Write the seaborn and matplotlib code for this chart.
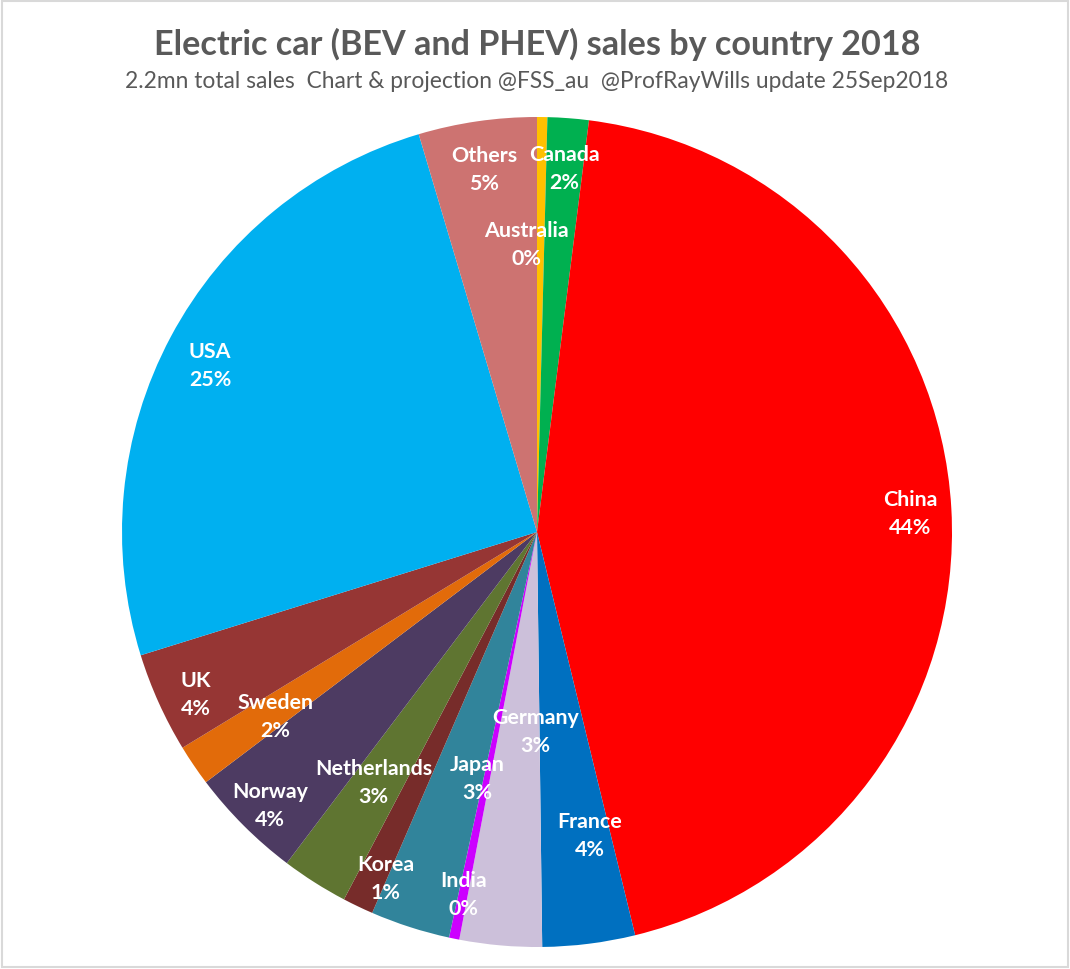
import numpy as np
import seaborn as sns
import matplotlib.pyplot as plt
from matplotlib.patches import Rectangle

# share of 2018 EV sales (%)
countries = ['Australia', 'Canada', 'China', 'France', 'Germany', 'India', 'Japan',
             'Korea', 'Netherlands', 'Norway', 'Sweden', 'UK', 'USA', 'Others']
shares = [0.4, 1.6, 44.2, 3.6, 3.2, 0.4, 3.1, 1.2, 2.6, 4.4, 1.6, 3.9, 25.2, 4.6]
colors = ['#FFC000', '#00B050', '#FF0000', '#0070C0', '#CCC0DA', '#CC00FF', '#31849B',
          '#772C2A', '#5F7531', '#4D3B62', '#E26B0A', '#963634', '#00B0F0', '#CD7371']

title = 'Electric car (BEV and PHEV) sales by country 2018'
subtitle = '2.2mn total sales  Chart & projection @FSS_au  @ProfRayWills update 25Sep2018'

# where excel put the data labels: radius fraction, clockwise shift (deg)
label_r = [0.695, 0.88, 0.9, 0.74, 0.48, 0.89, 0.61, 0.91, 0.72, 0.92, 0.77, 0.91, 0.885, 0.885]
label_shift = [-2.9, 0, 0.4, -2.7, -4.7, 0, -4.2, -2, 0.8, -0.6, -0.9, -1.1, -1, 0]

sns.set_theme(style='white')
plt.rcParams['font.family'] = ['Lato', 'DejaVu Sans']

fig = plt.figure(figsize=(10.7, 9.7), dpi=100)
W, H = 1070, 970
cx, cy, R = 537, 533, 415
ax = fig.add_axes([(cx - R) / W, (H - cy - R) / H, 2 * R / W, 2 * R / H])

pal = sns.color_palette(colors)
wedges, _ = ax.pie(shares, colors=pal, startangle=90, counterclock=False, radius=1,
                   wedgeprops=dict(linewidth=0))
ax.set_xlim(-1, 1)
ax.set_ylim(-1, 1)
ax.set_aspect('equal')
ax.axis('off')

total = sum(shares)
for w, name, val, r, sh in zip(wedges, countries, shares, label_r, label_shift):
    mid = np.deg2rad((w.theta1 + w.theta2) / 2 - sh)
    pct = f'{round(val / total * 100):.0f}%'
    ax.text(r * np.cos(mid), r * np.sin(mid), f'{name}\n{pct}', ha='center', va='center',
            color='white', fontsize=15.4, fontweight='bold', linespacing=1.5)

fig.text(cx / W, 1 - 44 / H, title, ha='center', va='center', fontsize=24.6,
         fontweight='bold', color='#595959')
fig.text(cx / W, 1 - 82 / H, subtitle, ha='center', va='center', fontsize=16.4,
         color='#595959')

fig.patches.append(Rectangle((0.002, 0.002), 0.996, 0.996, transform=fig.transFigure,
                             fill=False, edgecolor='#D9D9D9', linewidth=1.5))

fig.savefig('out.png', dpi=100, facecolor='white')
